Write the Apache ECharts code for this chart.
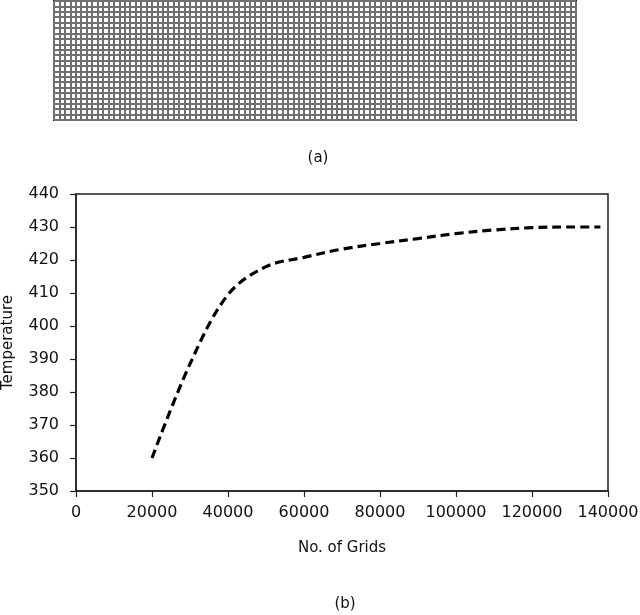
<!DOCTYPE html>
<html>
<head>
<meta charset="utf-8">
<script src="https://cdn.jsdelivr.net/npm/echarts@6/dist/echarts.min.js"></script>
<style>
html, body { margin:0; padding:0; background:#fff; }
#main { width:640px; height:615px; }
</style>
</head>
<body>
<div id="main"></div>
<script>
// grid-independence data
var gridCounts = [20000, 30000, 40000, 50000, 60000, 70000, 80000, 90000, 100000, 110000, 120000, 130000, 138000];
var temperature = [360, 388.5, 409.5, 418, 420.8, 423.3, 425, 426.5, 428, 429.1, 429.8, 430, 430];
var xTicks = [0, 20000, 40000, 60000, 80000, 100000, 120000, 140000];
var yTicks = [350, 360, 370, 380, 390, 400, 410, 420, 430, 440];
// mesh drawing (a): number of cells
var meshCols = 96;
var meshRows = 22;

var font = 'DejaVu Sans';
var chart = echarts.init(document.getElementById('main'));

var points = gridCounts.map(function (g, i) { return [g, temperature[i]]; });

var option = {
    animation: false,
    backgroundColor: '#fff',
    textStyle: { fontFamily: font },
    title: [
        { text: '(a)', left: 313, top: 146, textAlign: 'center',
          textStyle: { fontFamily: font, fontSize: 15, fontWeight: 'normal', color: '#111' } },
        { text: '(b)', left: 340, top: 592, textAlign: 'center',
          textStyle: { fontFamily: font, fontSize: 15, fontWeight: 'normal', color: '#111' } }
    ],
    grid: [
        { left: 54, right: 64, top: 1, height: 119, show: true, borderColor: '#111', borderWidth: 2,
          outerBoundsMode: 'none' },
        { left: 76, right: 32, top: 194, bottom: 124, show: true, borderColor: '#222', borderWidth: 1.5,
          outerBoundsMode: 'none' }
    ],
    xAxis: [
        {
            gridIndex: 0, type: 'value', min: 0, max: meshCols, interval: 1,
            axisLine: { show: false }, axisTick: { show: false }, axisLabel: { show: false },
            splitLine: { show: true, lineStyle: { color: '#707070', width: 2 } }
        },
        {
            gridIndex: 1, type: 'value', min: xTicks[0], max: xTicks[xTicks.length - 1], interval: 20000,
            name: 'No. of Grids', nameLocation: 'middle', nameGap: 50,
            nameTextStyle: { fontFamily: font, fontSize: 15, color: '#111' },
            axisLine: { show: true, onZero: false, lineStyle: { color: '#222', width: 1.5 } },
            axisTick: { show: true, inside: false, length: 6, lineStyle: { color: '#222', width: 1.2 } },
            axisLabel: { fontFamily: font, fontSize: 16, color: '#111', margin: 14,
                         formatter: function (v) { return String(v); } },
            splitLine: { show: false }
        }
    ],
    yAxis: [
        {
            gridIndex: 0, type: 'value', min: 0, max: meshRows, interval: 1,
            axisLine: { show: false }, axisTick: { show: false }, axisLabel: { show: false },
            splitLine: { show: true, lineStyle: { color: '#707070', width: 2 } }
        },
        {
            gridIndex: 1, type: 'value', min: yTicks[0], max: yTicks[yTicks.length - 1], interval: 10,
            name: 'Temperature', nameLocation: 'middle', nameGap: 60,
            nameTextStyle: { fontFamily: font, fontSize: 15, color: '#111' },
            axisLine: { show: true, lineStyle: { color: '#222', width: 1.5 } },
            axisTick: { show: true, inside: false, length: 6, lineStyle: { color: '#222', width: 1.2 } },
            axisLabel: { fontFamily: font, fontSize: 16, color: '#111', margin: 17 },
            splitLine: { show: false }
        }
    ],
    series: [
        {
            type: 'scatter', xAxisIndex: 0, yAxisIndex: 0, data: [], silent: true
        },
        {
            type: 'line', xAxisIndex: 1, yAxisIndex: 1,
            data: points, smooth: 0.35, showSymbol: false,
            lineStyle: { color: '#000', width: 3.2, type: [9, 5] }
        }
    ]
};

chart.setOption(option);
</script>
</body>
</html>
